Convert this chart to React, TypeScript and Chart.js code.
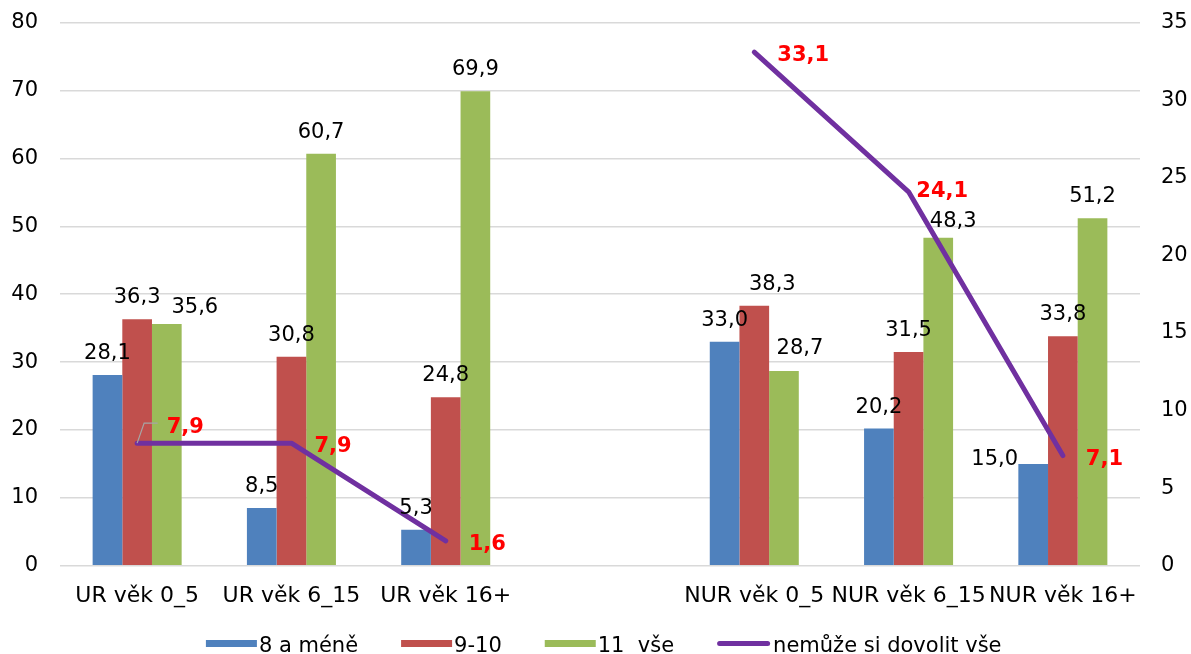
import React, { useEffect, useRef } from "react";
import { Chart, registerables } from "chart.js";

Chart.register(...registerables);

// ---------- data ----------
const categories = ["UR věk 0_5", "UR věk 6_15", "UR věk 16+", "", "NUR věk 0_5", "NUR věk 6_15", "NUR věk 16+"];
const seriesNames = ["8 a méně", "9-10", "11  vše", "nemůže si dovolit vše"];
const lowIncome = [28.1, 8.5, 5.3, null, 33.0, 20.2, 15.0];
const midIncome = [36.3, 30.8, 24.8, null, 38.3, 31.5, 33.8];
const fullIncome = [35.6, 60.7, 69.9, null, 28.7, 48.3, 51.2];
const cannotAfford = [7.9, 7.9, 1.6, null, 33.1, 24.1, 7.1];
const leftTicks = [0, 10, 20, 30, 40, 50, 60, 70, 80];
const rightTicks = [0, 5, 10, 15, 20, 25, 30, 35];

// ---------- styles ----------
const FONT = '"DejaVu Sans", "Verdana", sans-serif';
const COLORS = ["#4F81BD", "#C0504D", "#9BBB59", "#7030A0"];

const fmt = (v: number) => v.toFixed(1).replace(".", ",");

// manual label nudges (dataset:index -> offsets in px), as in the original
const labelNudges: Record<string, { dx: number; dy: number; leader?: boolean }> = {
  "0:6": { dx: -38.5, dy: 17 },
  "1:4": { dx: 18, dy: 0 },
  "2:0": { dx: 28, dy: 4.5 },
  "2:4": { dx: 16, dy: -1 },
  "2:5": { dx: 15, dy: 5.5 },
  "3:0": { dx: 6.5, dy: -19.6, leader: true },
  "3:5": { dx: -15.3, dy: -3.6 },
};

const valueLabelPlugin = {
  id: "valueLabels",
  afterDatasetsDraw(chart: any) {
    const ctx = chart.ctx;
    ctx.save();
    chart.data.datasets.forEach((ds: any, di: number) => {
      const meta = chart.getDatasetMeta(di);
      meta.data.forEach((el: any, i: number) => {
        const v = ds.data[i];
        if (v == null) return;
        const n = labelNudges[`${di}:${i}`] || { dx: 0, dy: 0 };
        if (ds.type === "line") {
          ctx.font = `bold 21px ${FONT}`;
          ctx.fillStyle = "#FF0000";
          ctx.textAlign = "left";
          ctx.textBaseline = "alphabetic";
          const x = el.x + 23 + n.dx;
          const cy = el.y + 1.6 + n.dy;
          if (n.leader) {
            ctx.strokeStyle = "#A6A6A6";
            ctx.lineWidth = 1.2;
            ctx.beginPath();
            ctx.moveTo(el.x, el.y);
            ctx.lineTo(el.x + 7, cy - 2);
            ctx.lineTo(x - 9, cy - 2);
            ctx.stroke();
          }
          ctx.fillText(fmt(v), x, cy + 7.6);
        } else {
          ctx.font = `21px ${FONT}`;
          ctx.fillStyle = "#000000";
          ctx.textAlign = "center";
          ctx.textBaseline = "alphabetic";
          const cy = el.y - 23.5 + n.dy;
          ctx.fillText(fmt(v), el.x + n.dx, cy + 7.6);
        }
      });
    });
    ctx.restore();
  },
};

const legendPlugin = {
  id: "customLegend",
  afterDraw(chart: any) {
    const ctx = chart.ctx;
    ctx.save();
    ctx.font = `21px ${FONT}`;
    ctx.textAlign = "left";
    ctx.textBaseline = "alphabetic";
    const boxW = 51;
    const itemGap = 43;
    const items = chart.data.datasets.map((ds: any) => ({
      text: ds.label,
      color: ds.type === "line" ? ds.borderColor : ds.backgroundColor,
      isLine: ds.type === "line",
    }));
    const widths = items.map((it: any) => boxW + (it.isLine ? 5 : 2) + ctx.measureText(it.text).width);
    const total = widths.reduce((a: number, b: number) => a + b, 0) + itemGap * (items.length - 1);
    let x = 603.7 - total / 2;
    const cy = 643.5;
    items.forEach((it: any, k: number) => {
      if (it.isLine) {
        ctx.strokeStyle = it.color;
        ctx.lineWidth = 5;
        ctx.lineCap = "round";
        ctx.beginPath();
        ctx.moveTo(x + 2.5, cy);
        ctx.lineTo(x + boxW - 0.5, cy);
        ctx.stroke();
      } else {
        ctx.fillStyle = it.color;
        ctx.fillRect(x, cy - 3.5, boxW, 7);
      }
      ctx.fillStyle = "#000000";
      ctx.fillText(it.text, x + boxW + (it.isLine ? 5 : 2), cy + 8.6);
      x += widths[k] + itemGap;
    });
    ctx.restore();
  },
};

export default function App() {
  const canvasRef = useRef<HTMLCanvasElement | null>(null);

  useEffect(() => {
    if (!canvasRef.current) return;
    Chart.defaults.font.family = FONT;
    const chart = new Chart(canvasRef.current, {
      type: "bar",
      data: {
        labels: categories,
        datasets: [
          { type: "bar", label: seriesNames[0], data: lowIncome, backgroundColor: COLORS[0], yAxisID: "y", order: 1 },
          { type: "bar", label: seriesNames[1], data: midIncome, backgroundColor: COLORS[1], yAxisID: "y", order: 1 },
          { type: "bar", label: seriesNames[2], data: fullIncome, backgroundColor: COLORS[2], yAxisID: "y", order: 1 },
          {
            type: "line",
            label: seriesNames[3],
            data: cannotAfford,
            borderColor: COLORS[3],
            backgroundColor: COLORS[3],
            borderWidth: 5,
            pointRadius: 0,
            pointHoverRadius: 0,
            borderCapStyle: "round",
            borderJoinStyle: "round",
            spanGaps: false,
            tension: 0,
            yAxisID: "y1",
            order: 0,
          },
        ] as any,
      },
      options: {
        animation: false,
        responsive: true,
        maintainAspectRatio: false,
        datasets: {
          bar: { categoryPercentage: 0.577, barPercentage: 1.0 },
        } as any,
        layout: { padding: { top: 22.7, bottom: 40.3, left: 0, right: 0 } },
        plugins: {
          legend: { display: false },
          tooltip: { enabled: false },
        },
        scales: {
          x: {
            type: "category",
            offset: true,
            grid: { display: false, drawTicks: false },
            border: { display: false },
            ticks: {
              font: { size: 22, family: FONT },
              color: "#000000",
              maxRotation: 0,
              minRotation: 0,
              autoSkip: false,
              padding: 17,
            },
            afterFit: (s: any) => {
              s.height = 48;
            },
          },
          y: {
            type: "linear",
            position: "left",
            min: leftTicks[0],
            max: leftTicks[leftTicks.length - 1],
            ticks: {
              stepSize: leftTicks[1] - leftTicks[0],
              font: { size: 21, family: FONT },
              color: "#000000",
              padding: 22,
              callback: (v: any) => String(v),
            },
            grid: { color: "#D9D9D9", lineWidth: 1.5, drawTicks: false },
            border: { display: false },
            afterFit: (s: any) => {
              s.width = 60;
              s.paddingTop = 0;
              s.paddingBottom = 0;
            },
          },
          y1: {
            type: "linear",
            position: "right",
            min: rightTicks[0],
            max: rightTicks[rightTicks.length - 1],
            ticks: {
              stepSize: rightTicks[1] - rightTicks[0],
              font: { size: 21, family: FONT },
              color: "#000000",
              padding: 21,
              callback: (v: any) => String(v),
            },
            grid: { drawOnChartArea: false, drawTicks: false },
            border: { display: false },
            afterFit: (s: any) => {
              s.width = 51;
              s.paddingTop = 0;
              s.paddingBottom = 0;
            },
          },
        },
      } as any,
      plugins: [valueLabelPlugin, legendPlugin],
    });
    return () => chart.destroy();
  }, []);

  return (
    <div style={{ position: "fixed", left: 0, top: 0, width: 1191, height: 654, background: "#ffffff" }}>
      <canvas ref={canvasRef} />
    </div>
  );
}
